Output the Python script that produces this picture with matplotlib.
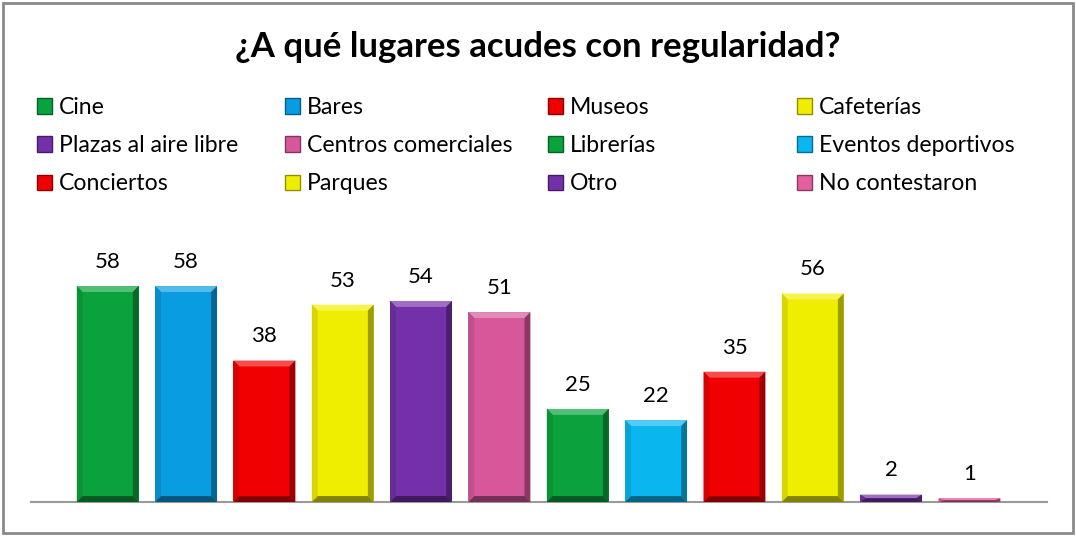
import matplotlib.pyplot as plt
from matplotlib.patches import Polygon, Rectangle
from matplotlib.colors import to_rgb
import numpy as np

# datos
categorias = ["Cine", "Bares", "Museos", "Cafeterías", "Plazas al aire libre",
              "Centros comerciales", "Librerías", "Eventos deportivos",
              "Conciertos", "Parques", "Otro", "No contestaron"]
valores = [58, 58, 38, 53, 54, 51, 25, 22, 35, 56, 2, 1]
colores = ["#0aa23c", "#0a9ce0", "#f00000", "#f0ee00", "#7430a8", "#d6589a",
           "#0aa23c", "#0ab6ee", "#f00000", "#f0ee00", "#7430a8", "#e2609f"]

plt.rcParams['font.family'] = ['Lato', 'DejaVu Sans']

W, H = 1076, 536


def tono(c, f):
    r = np.array(to_rgb(c))
    if f >= 0:
        return tuple(r + (1 - r) * f)
    return tuple(r * (1 + f))


fig = plt.figure(figsize=(W / 100, H / 100), dpi=100)
fig.patches.append(Rectangle((0.003, 0.006), 0.994, 0.989, transform=fig.transFigure,
                             fill=False, edgecolor='#8a8a8a', linewidth=2))

ax = fig.add_axes([31 / W, 34 / H, (1047 - 31) / W, 242 / H])
x = np.arange(len(valores))
ancho = 0.79
barras = ax.bar(x, valores, ancho, color=colores, edgecolor='none', zorder=2)

# efecto biselado
bx = 0.075
for b, c in zip(barras, colores):
    x0, y0 = b.get_x(), b.get_y()
    w, h = b.get_width(), b.get_height()
    by = min(1.6, h / 2)
    bxx = min(bx, w / 2)
    x1, y1 = x0 + w, y0 + h
    ax.add_patch(Polygon([(x0, y1), (x1, y1), (x1 - bxx, y1 - by), (x0 + bxx, y1 - by)],
                         color=tono(c, 0.3), zorder=3, lw=0))
    ax.add_patch(Polygon([(x0, y0), (x0, y1), (x0 + bxx, y1 - by), (x0 + bxx, y0 + by)],
                         color=tono(c, -0.1), zorder=3, lw=0))
    ax.add_patch(Polygon([(x1, y0), (x1, y1), (x1 - bxx, y1 - by), (x1 - bxx, y0 + by)],
                         color=tono(c, -0.35), zorder=3, lw=0))
    ax.add_patch(Polygon([(x0, y0), (x1, y0), (x1 - bxx, y0 + by), (x0 + bxx, y0 + by)],
                         color=tono(c, -0.45), zorder=3, lw=0))
    ax.text(x0 + w / 2, y1 + 3.8, str(int(h)), ha='center', va='bottom', fontsize=16)

ax.set_xlim(-0.98, 11.99)
ax.set_ylim(0, 65)
for s in ['top', 'right', 'left']:
    ax.spines[s].set_visible(False)
ax.spines['bottom'].set_color('#9a9a9a')
ax.spines['bottom'].set_linewidth(1.5)
ax.set_xticks([])
ax.set_yticks([])

fig.text(0.5, 1 - 47 / H, "¿A qué lugares acudes con regularidad?", ha='center', va='center',
         fontsize=25, fontweight='bold')

# leyenda (4 columnas, orden por filas)
col_x = [37, 285, 548, 797]
fila_y = [106, 144, 182]
tam = 15
for i, (nom, c) in enumerate(zip(categorias, colores)):
    px = col_x[i % 4]
    py = fila_y[i // 4]
    fig.patches.append(Rectangle((px / W, 1 - (py + tam / 2) / H), tam / W, tam / H,
                                 transform=fig.transFigure, facecolor=c,
                                 edgecolor=tono(c, -0.4), lw=1))
    fig.text((px + tam + 7) / W, 1 - py / H, nom, ha='left', va='center_baseline', fontsize=16.6)

plt.savefig('out.png', dpi=100)
